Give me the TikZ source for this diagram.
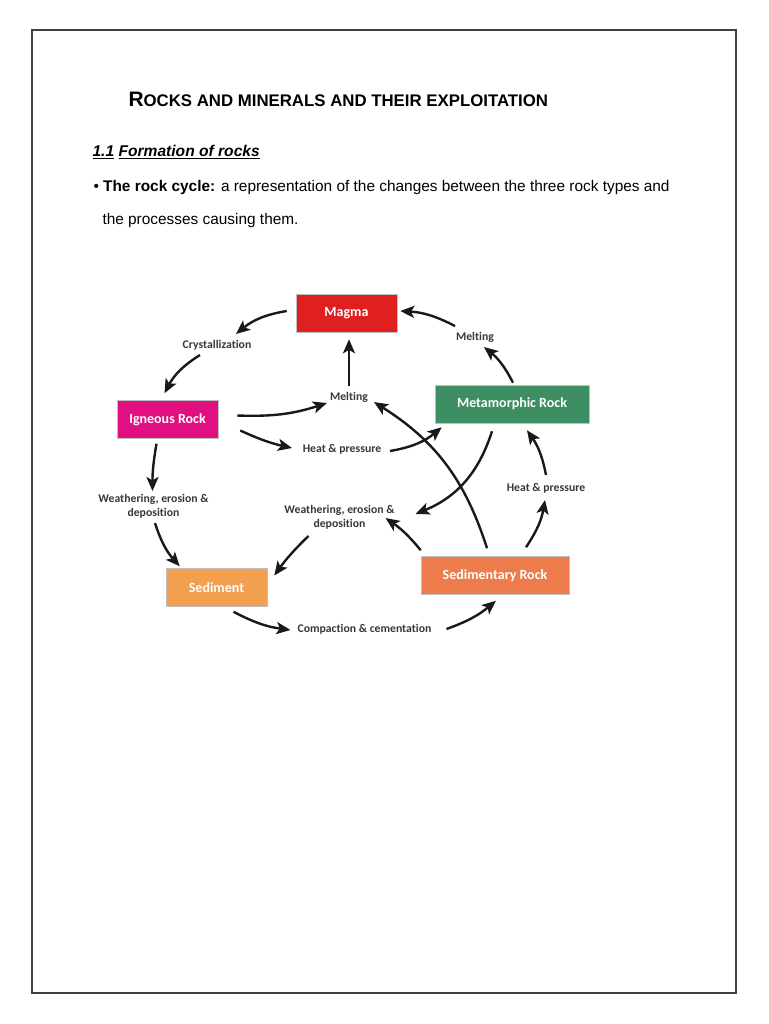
\documentclass[tikz,border=0pt]{standalone}
\usepackage{fontspec}
\setmainfont{Liberation Sans}
\newfontfamily\carlito[Ligatures=NoCommon]{Carlito}
\usetikzlibrary{arrows.meta,calc}

\definecolor{magmared}{RGB}{224,32,32}
\definecolor{igneouspink}{RGB}{224,16,128}
\definecolor{metagreen}{RGB}{62,142,100}
\definecolor{sedorange}{RGB}{242,160,80}
\definecolor{sedrockorange}{RGB}{236,124,76}

\tikzset{every picture/.style={line width=0.75pt}}
\tikzset{
  rockbox/.style={draw=gray!50, line width=0.4pt, minimum height=28.5pt, inner sep=0pt,
    text=white, font=\carlito\bfseries\fontsize{10.5}{12}\selectfont},
  process/.style={inner sep=1pt, align=center, text=black!78,
    font=\carlito\bfseries\fontsize{8.8}{10.5}\selectfont},
  flow/.style={line width=1.8pt, black!90, -{Stealth[length=10.5pt,width=9pt,inset=2.5pt]}}
}

\begin{document}
\begin{tikzpicture}[x=0.75pt,y=0.75pt,yscale=-1,xscale=1]
\useasboundingbox (0,0) rectangle (768,1024);

%Shape: Rectangle [page frame]
\draw [line width=1.2pt, black!75] (32,30) rectangle (736,993);

% Text Node
\node (title) [anchor=base west, inner sep=0pt, font=\bfseries] at (128,106.7)
  {\fontsize{15.7}{18}\selectfont R\fontsize{12.6}{15}\selectfont OCKS AND MINERALS AND THEIR EXPLOITATION};
% Text Node
\node (heading) [anchor=base west, inner sep=0pt, font=\bfseries\itshape\fontsize{11.7}{14}\selectfont] at (92,156)
  {\underline{1.1} \underline{Formation of rocks}};
% Text Node
\node (lineone) [anchor=base west, inner sep=0pt, font=\fontsize{11.55}{14}\selectfont] at (93,191)
  {• \textbf{The rock cycle:} a representation of the changes between the three rock types and};
% Text Node
\node (linetwo) [anchor=base west, inner sep=0pt, font=\fontsize{11.55}{14}\selectfont] at (102,224)
  {the processes causing them.};

%Shape: Rectangle [rock boxes]
\node (magma) [rockbox, fill=magmared, minimum width=75.75pt] at (346.5,313) {Magma};
\node (igneous) [rockbox, fill=igneouspink, minimum width=75.75pt] at (167.5,419.5) {Igneous Rock};
\node (meta) [rockbox, fill=metagreen, minimum width=115.5pt] at (512,404) {Metamorphic Rock};
\node (sediment) [rockbox, fill=sedorange, minimum width=75.75pt] at (216.5,587.5) {Sediment};
\node (sedrock) [rockbox, fill=sedrockorange, minimum width=111pt] at (495,575.5) {Sedimentary Rock};

% Text Node [processes]
\node (cryst) [process] at (217,345) {Crystallization};
\node (meltc) [process] at (349,397) {Melting};
\node (meltr) [process] at (475,337) {Melting};
\node (heatc) [process] at (342,449) {Heat \& pressure};
\node (heatr) [process] at (546,488) {Heat \& pressure};
\node (weatl) [process] at (153.5,506) {Weathering, erosion \&\\deposition};
\node (weatc) [process] at (339.5,517) {Weathering, erosion \&\\deposition};
\node (compact) [process] at (364.5,629) {Compaction \& cementation};

%Curve Lines [outer cycle]
\draw [flow] ($(magma.west)+(-9,-2)$) to [bend left=15] ($(cryst)+(19,-11)$);
\draw [flow] ($(cryst)+(-17,10)$) to [bend left=15] ($(igneous.north)+(-3,-7)$);
\draw [flow] ($(igneous.south)+(-11,5)$) to [bend left=5] ($(weatl)+(-1,-15)$);
\draw [flow] ($(weatl)+(1.5,17)$) to [bend left=12] ($(sediment.north west)+(14,-2)$);
\draw [flow] ($(sediment.south)+(17,5)$) to [bend left=10] ($(compact)+(-74,1)$);
\draw [flow] ($(compact)+(82,0)$) to [bend left=10] ($(sedrock.south)+(1,6)$);
\draw [flow] ($(sedrock.north)+(31,-9)$) to [bend left=12] ($(heatr)+(-1,12)$);
\draw [flow] ($(heatr)+(0,-13)$) to [bend left=12] ($(meta.south)+(15,7)$);
\draw [flow] ($(meta.north)+(1,-2)$) to [bend left=12] ($(meltr)+(9,10)$);
\draw [flow] ($(meltr)+(-20,-11)$) to [bend left=12] ($(magma.east)+(3,-2)$);

%Curve Lines [inner paths]
\draw [flow] ($(igneous.east)+(19,-4)$) to [bend left=10] ($(meltc)+(-22,6)$);
\draw [flow, shorten <=3pt] (meltc.north) -- ($(meltc.north |- magma.south)+(0,7)$);
\draw [flow] ($(igneous.east)+(22,11)$) to [bend left=6] ($(heatc)+(-50,-1)$);
\draw [flow] ($(heatc)+(48,2)$) to [bend left=15] ($(meta.south west)+(7,4)$);
\draw [flow] ($(meta.south)+(-20,8)$) to [bend right=25] ($(weatc)+(76,-3)$);
\draw [flow] ($(sedrock.north)+(-8,-8)$) to [bend left=20] ($(meltc)+(25,5)$);
\draw [flow] ($(sedrock.north west)+(0,-6)$) to [bend left=8] ($(weatc)+(46,1)$);
\draw [flow] ($(weatc)+(-31,19)$) to [bend left=5] ($(sediment.east)+(7,-12)$);

\end{tikzpicture}
\end{document}
